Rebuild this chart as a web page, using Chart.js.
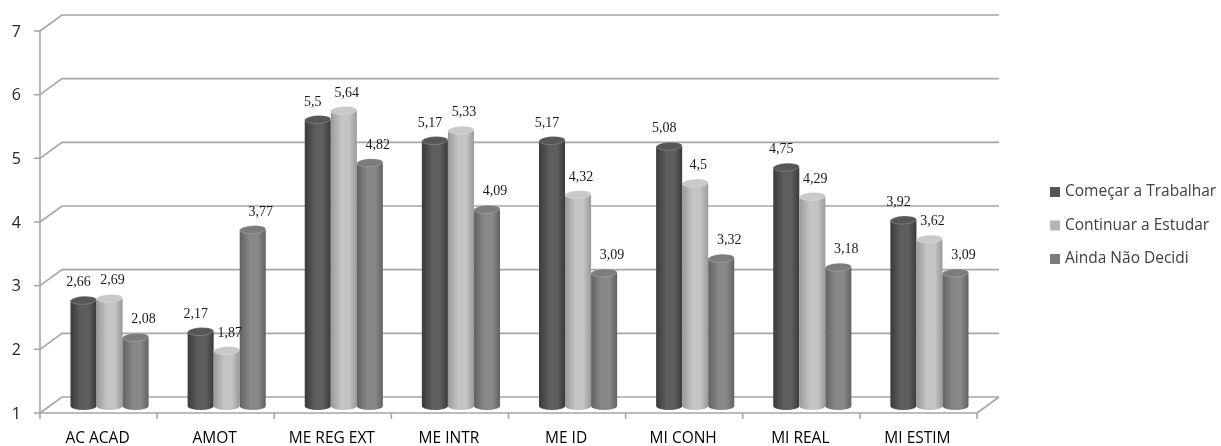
<!DOCTYPE html>
<html>
<head>
<meta charset="utf-8">
<script src="https://cdn.jsdelivr.net/npm/chart.js@4"></script>
<style>
  html, body { margin: 0; padding: 0; background: #ffffff; }
  #wrap { width: 1221px; height: 446px; }
</style>
</head>
<body>
<div id="wrap"><canvas id="c" width="1221" height="446"></canvas></div>
<script>
// Categories and series (mean scores per group)
const categories = ['AC ACAD', 'AMOT', 'ME REG EXT', 'ME INTR', 'ME ID', 'MI CONH', 'MI REAL', 'MI ESTIM'];
const seriesNames = ['Começar a Trabalhar', 'Continuar a Estudar', 'Ainda Não Decidi'];
const comecarTrabalhar = [2.66, 2.17, 5.5, 5.17, 5.17, 5.08, 4.75, 3.92];
const continuarEstudar = [2.69, 1.87, 5.64, 5.33, 4.32, 4.5, 4.29, 3.62];
const aindaNaoDecidi = [2.08, 3.77, 4.82, 4.09, 3.09, 3.32, 3.18, 3.09];
const yTicks = [1, 2, 3, 4, 5, 6, 7];

// Cylinder shading per series: edge, highlight, top cap, legend swatch
const palettes = [
  { edge: '#3a3a3a', mid: '#5e5e5e', top: '#575757', key: '#555555' },
  { edge: '#999999', mid: '#c4c4c4', top: '#c9c9c9', key: '#b4b4b4' },
  { edge: '#626262', mid: '#888888', top: '#7c7c7c', key: '#7c7c7c' }
];
const labelShift = [-5, 3, 8];

// Depth of the 3D box
const DEPTH_X = 22, DEPTH_Y = -16;
const BAR_X = 11, BAR_Y = -7;
const GRID = '#a6a6a6';

function fmt(v) { return String(v).replace('.', ','); }

const depthPlugin = {
  id: 'depth',
  beforeDatasetsDraw(chart) {
    const ctx = chart.ctx;
    const xs = chart.scales.x, ys = chart.scales.y;
    const L = chart.chartArea.left, R = chart.chartArea.right;
    const B = ys.getPixelForValue(yTicks[0]);
    ctx.save();
    ctx.strokeStyle = GRID;
    ctx.lineWidth = 1.6;
    // walls: side diagonals and back gridlines
    yTicks.forEach(t => {
      const y = ys.getPixelForValue(t);
      ctx.beginPath();
      ctx.moveTo(L, y);
      ctx.lineTo(L + DEPTH_X, y + DEPTH_Y);
      ctx.lineTo(R + DEPTH_X, y + DEPTH_Y);
      ctx.stroke();
      ctx.beginPath();
      ctx.moveTo(L - 6, y);
      ctx.lineTo(L, y);
      ctx.stroke();
    });
    // floor right edge
    ctx.beginPath();
    ctx.moveTo(R, B);
    ctx.lineTo(R + DEPTH_X, B + DEPTH_Y);
    ctx.stroke();
    // front vertical axis
    ctx.beginPath();
    ctx.moveTo(L, ys.getPixelForValue(yTicks[yTicks.length - 1]));
    ctx.lineTo(L, B);
    ctx.stroke();
    // front horizontal axis
    ctx.beginPath();
    ctx.moveTo(L, B);
    ctx.lineTo(R, B);
    ctx.stroke();
    // category boundary ticks
    const step = (R - L) / categories.length;
    for (let i = 0; i <= categories.length; i++) {
      const x = L + i * step;
      ctx.beginPath();
      ctx.moveTo(x, B);
      ctx.lineTo(x, B + 6);
      ctx.stroke();
    }
    // y tick labels
    ctx.fillStyle = '#262626';
    ctx.font = '16px "Open Sans"';
    ctx.textAlign = 'right';
    ctx.textBaseline = 'middle';
    yTicks.forEach(t => ctx.fillText(String(t), L - 19, ys.getPixelForValue(t) + 1));
    // category labels
    ctx.fillStyle = '#000000';
    ctx.font = '15.5px "Open Sans"';
    ctx.textAlign = 'center';
    ctx.textBaseline = 'alphabetic';
    categories.forEach((c, i) => ctx.fillText(c, xs.getPixelForValue(i) - 1, B + 30));
    ctx.restore();
  },
  afterDatasetsDraw(chart) {
    const ctx = chart.ctx;
    const ys = chart.scales.y;
    const floor = ys.getPixelForValue(yTicks[0]) + BAR_Y;
    const n = categories.length;
    ctx.save();
    for (let i = 0; i < n; i++) {
      chart.data.datasets.forEach((ds, d) => {
        const el = chart.getDatasetMeta(d).data[i];
        const p = palettes[d];
        const cx = el.x + BAR_X;
        const top = el.y + BAR_Y;
        const base = floor;
        const rx = el.width / 2;
        const ry = 4;
        const g = ctx.createLinearGradient(cx - rx, 0, cx + rx, 0);
        g.addColorStop(0, p.edge);
        g.addColorStop(0.4, p.mid);
        g.addColorStop(0.7, p.mid);
        g.addColorStop(1, p.edge);
        ctx.beginPath();
        ctx.moveTo(cx - rx, top);
        ctx.lineTo(cx - rx, base);
        ctx.ellipse(cx, base, rx, ry, 0, Math.PI, 0, true);
        ctx.lineTo(cx + rx, top);
        ctx.closePath();
        ctx.fillStyle = g;
        ctx.fill();
        ctx.beginPath();
        ctx.ellipse(cx, top, rx, ry, -0.05, 0, Math.PI * 2);
        ctx.fillStyle = p.top;
        ctx.fill();
        ctx.strokeStyle = 'rgba(255,255,255,0.25)';
        ctx.lineWidth = 0.8;
        ctx.stroke();
      });
    }
    // value labels
    ctx.fillStyle = '#1a1a1a';
    ctx.font = '14px "Liberation Serif"';
    ctx.textAlign = 'center';
    ctx.textBaseline = 'alphabetic';
    chart.data.datasets.forEach((ds, d) => {
      chart.getDatasetMeta(d).data.forEach((el, i) => {
        ctx.fillText(fmt(ds.data[i]), el.x + BAR_X + labelShift[d], el.y + BAR_Y - 14);
      });
    });
    // legend
    ctx.font = '15.5px "Open Sans"';
    ctx.textAlign = 'left';
    ctx.textBaseline = 'middle';
    chart.data.datasets.forEach((ds, d) => {
      const y = 192 + d * 33.5;
      ctx.fillStyle = palettes[d].key;
      ctx.fillRect(1050, y - 5, 10, 10);
      ctx.fillStyle = '#404040';
      ctx.fillText(ds.label, 1065, y);
    });
    ctx.restore();
  }
};

const seriesData = [comecarTrabalhar, continuarEstudar, aindaNaoDecidi];

new Chart(document.getElementById('c'), {
  type: 'bar',
  data: {
    labels: categories,
    datasets: seriesNames.map((name, d) => ({
      label: name,
      data: seriesData[d],
      backgroundColor: 'rgba(0,0,0,0)',
      borderWidth: 0,
      categoryPercentage: 0.667,
      barPercentage: 1.0
    }))
  },
  options: {
    responsive: false,
    animation: false,
    devicePixelRatio: 1,
    layout: { padding: { left: 40, right: 244, top: 31, bottom: 33 } },
    plugins: { legend: { display: false }, tooltip: { enabled: false } },
    scales: {
      x: { display: false },
      y: { display: false, min: 1, max: 7, ticks: { stepSize: 1 } }
    }
  },
  plugins: [depthPlugin]
});
</script>
</body>
</html>
